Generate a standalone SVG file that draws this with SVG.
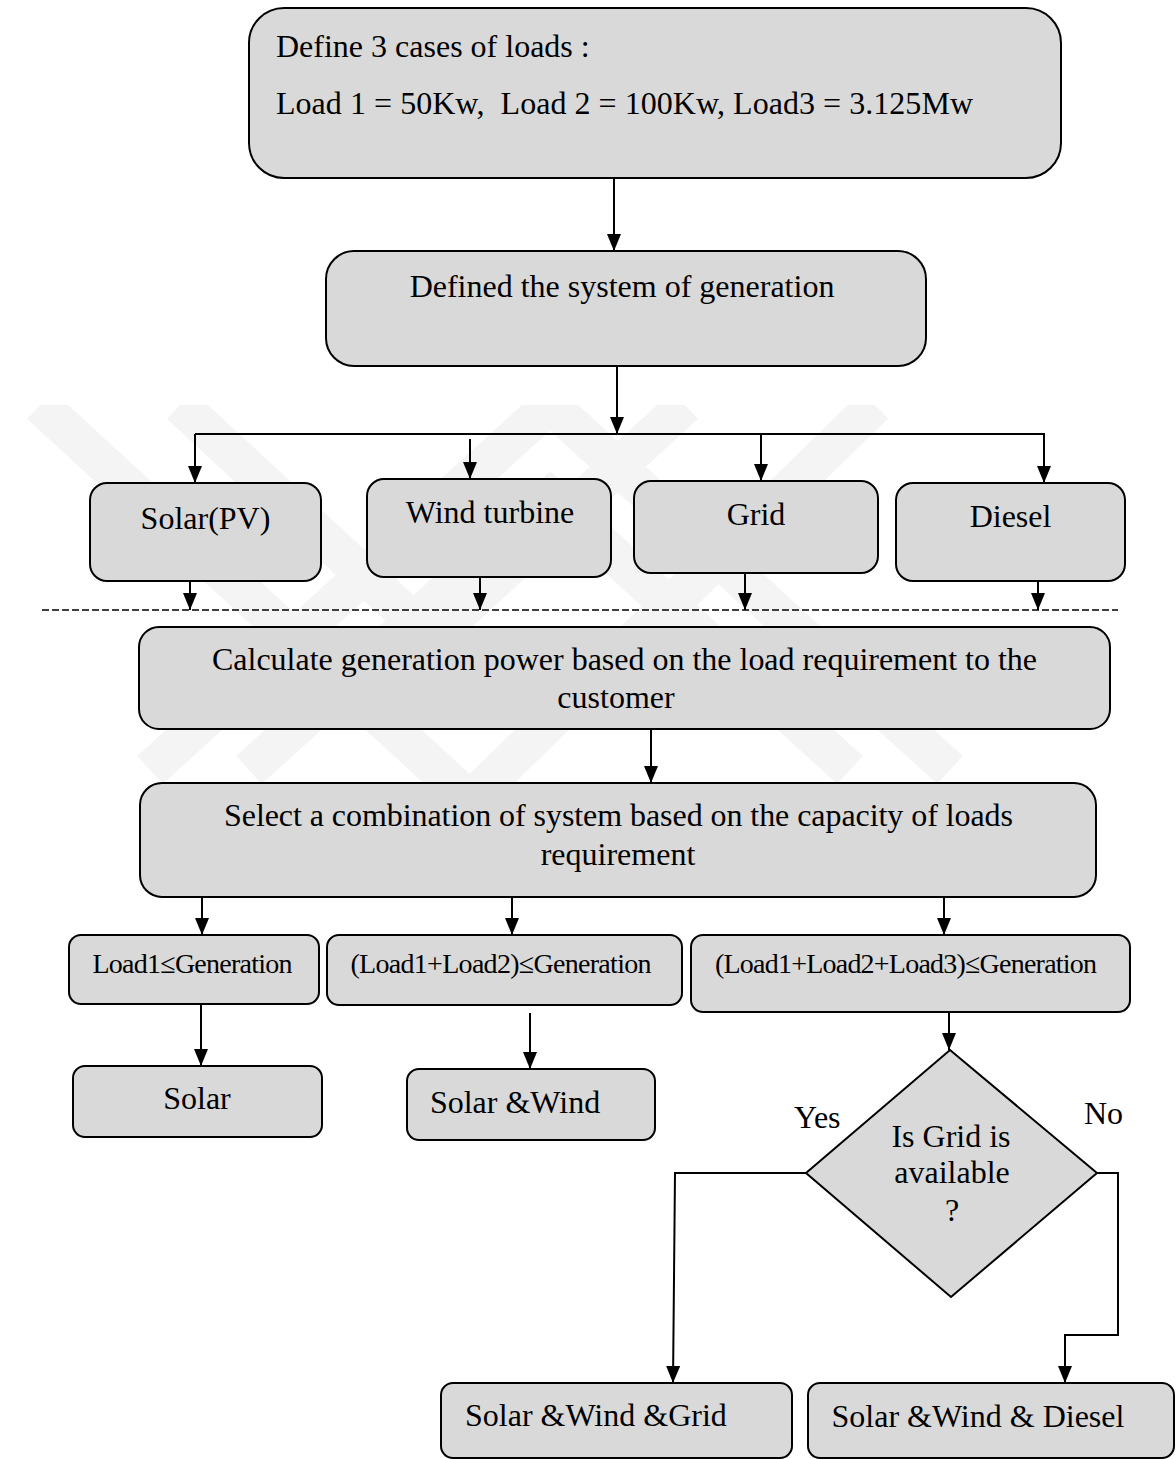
<svg xmlns="http://www.w3.org/2000/svg" width="1176" height="1459" viewBox="0 0 1176 1459">
  <defs>
    <style>
      .box { fill: #d9d9d9; stroke: #000; stroke-width: 2; }
      .t { font-family: "Liberation Serif", "Times New Roman", serif; font-size: 32px; fill: #000; }
      .c { text-anchor: middle; }
      .s { font-size: 28px; }
      .wire { fill: none; stroke: #000; stroke-width: 2; }
      .dash { fill: none; stroke: #000; stroke-width: 1.5; stroke-dasharray: 7 3; }
      .mark { fill: none; stroke: #f4f4f4; stroke-width: 38; stroke-linejoin: miter; }
    </style>
    <marker id="ah" viewBox="0 0 17 14" markerUnits="userSpaceOnUse" markerWidth="17" markerHeight="14" refX="17" refY="7" orient="auto">
      <path d="M0,0 L17,7 L0,14 z" fill="#000"/>
    </marker>
    <clipPath id="markClip">
      <rect x="0" y="405" width="1176" height="380"/>
    </clipPath>
  </defs>

  <!-- faint background mark -->
  <g id="background-mark" clip-path="url(#markClip)">
    <polyline class="mark" points="40,405 470,800 875,405"/>
    <polyline class="mark" points="180,405 432,638 685,405"/>
    <polyline class="mark" points="150,770 550,405 950,770"/>
    <polyline class="mark" points="249,770 550,497 850,770"/>
  </g>

  <!-- connectors -->
  <g id="connectors">
    <line class="wire" x1="614" y1="178" x2="614" y2="251" marker-end="url(#ah)"/>
    <line class="wire" x1="617" y1="366" x2="617" y2="434" marker-end="url(#ah)"/>
    <line class="wire" x1="195" y1="434" x2="1045" y2="434"/>
    <line class="wire" x1="195" y1="434" x2="195" y2="483" marker-end="url(#ah)"/>
    <line class="wire" x1="470" y1="439" x2="470" y2="479" marker-end="url(#ah)"/>
    <line class="wire" x1="761" y1="434" x2="761" y2="481" marker-end="url(#ah)"/>
    <line class="wire" x1="1044" y1="434" x2="1044" y2="483" marker-end="url(#ah)"/>

    <line class="wire" x1="190" y1="581" x2="190" y2="610" marker-end="url(#ah)"/>
    <line class="wire" x1="480" y1="577" x2="480" y2="610" marker-end="url(#ah)"/>
    <line class="wire" x1="745" y1="573" x2="745" y2="610" marker-end="url(#ah)"/>
    <line class="wire" x1="1038" y1="581" x2="1038" y2="610" marker-end="url(#ah)"/>
    <line class="dash" x1="42" y1="610" x2="1118" y2="610"/>

    <line class="wire" x1="651" y1="729" x2="651" y2="783" marker-end="url(#ah)"/>
    <line class="wire" x1="202" y1="897" x2="202" y2="935" marker-end="url(#ah)"/>
    <line class="wire" x1="512" y1="897" x2="512" y2="935" marker-end="url(#ah)"/>
    <line class="wire" x1="944" y1="897" x2="944" y2="935" marker-end="url(#ah)"/>

    <line class="wire" x1="201" y1="1004" x2="201" y2="1066" marker-end="url(#ah)"/>
    <line class="wire" x1="530" y1="1013" x2="530" y2="1069" marker-end="url(#ah)"/>
    <line class="wire" x1="949" y1="1012" x2="949" y2="1050" marker-end="url(#ah)"/>

    <polyline class="wire" points="806,1173 675,1173 673,1383" marker-end="url(#ah)"/>
    <polyline class="wire" points="1097,1173 1118,1173 1118,1335 1065,1335 1065,1383" marker-end="url(#ah)"/>
    <text class="t" x="794" y="1128">Yes</text>
    <text class="t" x="1084" y="1124">No</text>
  </g>

  <!-- nodes -->
  <g id="define-loads">
    <rect class="box" x="249" y="8" width="812" height="170" rx="35"/>
    <text class="t" x="276" y="57">Define 3 cases of loads :</text>
    <text class="t" x="276" y="114" xml:space="preserve" textLength="697">Load 1 = 50Kw,  Load 2 = 100Kw, Load3 = 3.125Mw</text>
  </g>

  <g id="generation-system">
    <rect class="box" x="326" y="251" width="600" height="115" rx="28"/>
    <text class="t c" x="622" y="297">Defined the system of generation</text>
  </g>

  <g id="solar-pv">
    <rect class="box" x="90" y="483" width="231" height="98" rx="17"/>
    <text class="t c" x="205.5" y="529">Solar(PV)</text>
  </g>

  <g id="wind-turbine">
    <rect class="box" x="367" y="479" width="244" height="98" rx="17"/>
    <text class="t c" x="490" y="523">Wind turbine</text>
  </g>

  <g id="grid">
    <rect class="box" x="634" y="481" width="244" height="92" rx="17"/>
    <text class="t c" x="756" y="525">Grid</text>
  </g>

  <g id="diesel">
    <rect class="box" x="896" y="483" width="229" height="98" rx="17"/>
    <text class="t c" x="1010.5" y="527">Diesel</text>
  </g>

  <g id="calculate-power">
    <rect class="box" x="139" y="627" width="971" height="102" rx="20"/>
    <text class="t c" x="624.5" y="670" textLength="825">Calculate generation power based on the load requirement to the</text>
    <text class="t c" x="616" y="708">customer</text>
  </g>

  <g id="select-combination">
    <rect class="box" x="140" y="783" width="956" height="114" rx="22"/>
    <text class="t c" x="618.5" y="826" textLength="789">Select a combination of system based on the capacity of loads</text>
    <text class="t c" x="618" y="865">requirement</text>
  </g>

  <g id="case-load1">
    <rect class="box" x="69" y="935" width="250" height="69" rx="12"/>
    <text class="t s c" x="192.5" y="973" textLength="200">Load1≤Generation</text>
  </g>

  <g id="case-load12">
    <rect class="box" x="327" y="935" width="355" height="70" rx="12"/>
    <text class="t s c" x="501" y="973" textLength="301">(Load1+Load2)≤Generation</text>
  </g>

  <g id="case-load123">
    <rect class="box" x="691" y="935" width="439" height="77" rx="12"/>
    <text class="t s c" x="906" y="973" textLength="382">(Load1+Load2+Load3)≤Generation</text>
  </g>

  <g id="result-solar">
    <rect class="box" x="73" y="1066" width="249" height="71" rx="12"/>
    <text class="t c" x="197" y="1109">Solar</text>
  </g>

  <g id="result-solar-wind">
    <rect class="box" x="407" y="1069" width="248" height="71" rx="12"/>
    <text class="t c" x="515" y="1113">Solar &amp;Wind</text>
  </g>

  <g id="grid-available">
    <polygon class="box" points="950,1050 1097,1173 951,1297 806,1173"/>
    <text class="t c" x="951" y="1147">Is Grid is</text>
    <text class="t c" x="952" y="1183">available</text>
    <text class="t c" x="952" y="1221">?</text>
  </g>

  <g id="result-solar-wind-grid">
    <rect class="box" x="441" y="1383" width="351" height="75" rx="12"/>
    <text class="t" x="465" y="1426">Solar &amp;Wind &amp;Grid</text>
  </g>

  <g id="result-solar-wind-diesel">
    <rect class="box" x="808" y="1383" width="366" height="75" rx="12"/>
    <text class="t" x="831.5" y="1427">Solar &amp;Wind &amp; Diesel</text>
  </g>
</svg>
